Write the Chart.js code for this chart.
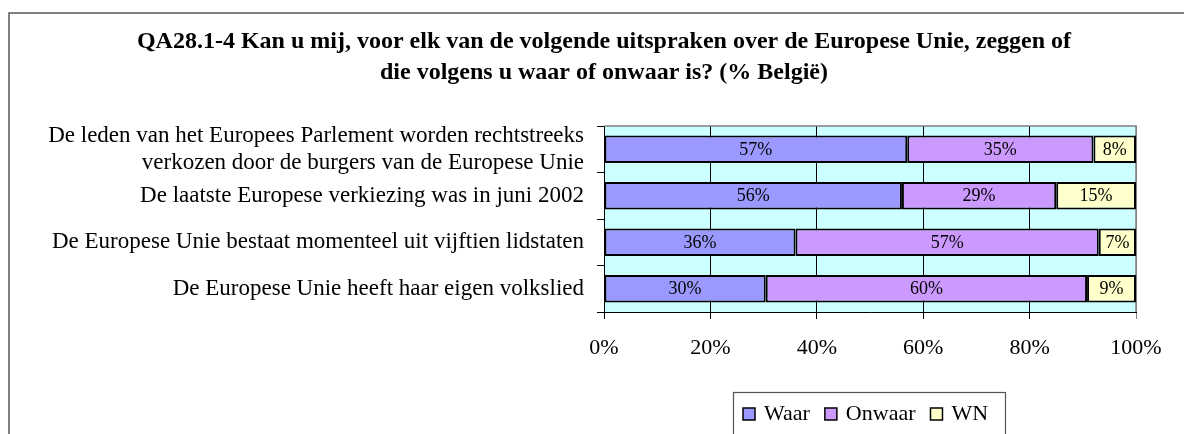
<!DOCTYPE html>
<html>
<head>
<meta charset="utf-8">
<script src="https://cdn.jsdelivr.net/npm/chart.js@4.4.2/dist/chart.umd.min.js"></script>
<style>
  html, body { margin: 0; padding: 0; background: #fff; }
  #wrap { width: 1184px; height: 434px; position: relative; }
</style>
</head>
<body>
<div id="wrap"><canvas id="chart"></canvas></div>
<script>
// statements, top to bottom
const statements = [
  ['De leden van het Europees Parlement worden rechtstreeks',
   'verkozen door de burgers van de Europese Unie'],
  'De laatste Europese verkiezing was in juni 2002',
  'De Europese Unie bestaat momenteel uit vijftien lidstaten',
  'De Europese Unie heeft haar eigen volkslied'
];
const seriesNames = ['Waar', 'Onwaar', 'WN'];
const waar = [57, 56, 36, 30.4];
const onwaar = [35, 29, 57, 60.4];
const wn = [8, 15, 7, 9.2];
const xTicks = [0, 20, 40, 60, 80, 100];

const titleLines = [
  'QA28.1-4 Kan u mij, voor elk van de volgende uitspraken over de Europese Unie, zeggen of',
  'die volgens u waar of onwaar is? (% België)'
];

const FONT = "'Liberation Serif', 'Times New Roman', serif";

// cyan plot background + grey frame around the whole picture
const backdrop = {
  id: 'backdrop',
  beforeDraw(chart) {
    const {ctx, chartArea: a} = chart;
    ctx.save();
    ctx.fillStyle = '#fff';
    ctx.fillRect(0, 0, chart.width, chart.height);
    ctx.fillStyle = '#CCFFFF';
    ctx.fillRect(a.left, a.top, a.right - a.left, a.bottom - a.top);
    ctx.strokeStyle = '#555';
    ctx.lineWidth = 1.5;
    ctx.strokeRect(9, 13, chart.width + 20, chart.height + 20);
    ctx.restore();
  },
  beforeDatasetsDraw(chart) {
    const {ctx, chartArea: a} = chart;
    ctx.save();
    ctx.strokeStyle = '#808080';
    ctx.lineWidth = 1.5;
    ctx.beginPath();
    ctx.moveTo(a.left, a.top);
    ctx.lineTo(a.right, a.top);
    ctx.lineTo(a.right, a.bottom);
    ctx.stroke();
    ctx.restore();
  }
};

// percentage labels inside the bar pieces
const barLabels = {
  id: 'barLabels',
  afterDatasetsDraw(chart) {
    const ctx = chart.ctx;
    ctx.save();
    ctx.font = '18px ' + FONT;
    ctx.fillStyle = '#000';
    ctx.textAlign = 'center';
    ctx.textBaseline = 'middle';
    chart.data.datasets.forEach((ds, i) => {
      chart.getDatasetMeta(i).data.forEach((bar, j) => {
        const cx = (bar.x + bar.base) / 2;
        ctx.fillText(Math.round(ds.data[j]) + '%', cx, bar.y + 1);
      });
    });
    ctx.restore();
  }
};

// boxed legend under the axis
const boxLegend = {
  id: 'boxLegend',
  afterDraw(chart) {
    const ctx = chart.ctx;
    const boxL = 733, boxR = 1005, boxT = 392;
    ctx.save();
    ctx.strokeStyle = '#555';
    ctx.lineWidth = 1.2;
    ctx.strokeRect(boxL + 0.5, boxT + 0.5, boxR - boxL, 60);
    ctx.font = '22px ' + FONT;
    ctx.textBaseline = 'middle';
    const sq = 12, gapText = 9, gapItem = 15;
    let x = 743;
    const cy = 414;
    chart.data.datasets.forEach(ds => {
      ctx.fillStyle = ds.backgroundColor;
      ctx.fillRect(x, cy - sq / 2, sq, sq);
      ctx.strokeStyle = '#000';
      ctx.lineWidth = 1.5;
      ctx.strokeRect(x, cy - sq / 2, sq, sq);
      ctx.fillStyle = '#000';
      ctx.fillText(ds.label, x + sq + gapText, cy);
      x += sq + gapText + ctx.measureText(ds.label).width + gapItem;
    });
    ctx.restore();
  }
};

const colors = ['#9999FF', '#CC99FF', '#FFFFCC'];
const values = [waar, onwaar, wn];

new Chart(document.getElementById('chart'), {
  type: 'bar',
  data: {
    labels: statements,
    datasets: seriesNames.map((name, i) => ({
      label: name,
      data: values[i],
      backgroundColor: colors[i],
      borderColor: '#000',
      borderWidth: 2,
      borderSkipped: false,
      categoryPercentage: 1,
      barPercentage: 0.59
    }))
  },
  options: {
    indexAxis: 'y',
    responsive: true,
    maintainAspectRatio: false,
    animation: false,
    devicePixelRatio: 1,
    layout: {padding: {left: 24, right: 0, top: 0, bottom: 74}},
    plugins: {
      legend: {display: false},
      tooltip: {enabled: false},
      title: {
        display: true,
        text: titleLines,
        color: '#000',
        font: {family: FONT, size: 24, weight: 'bold', lineHeight: 1.3},
        padding: {top: 26, bottom: 37.6}
      }
    },
    scales: {
      x: {
        stacked: true,
        min: 0,
        max: 100,
        afterBuildTicks: s => { s.ticks = xTicks.map(v => ({value: v})); },
        afterFit: s => { s.height = 48; },
        ticks: {
          color: '#000',
          font: {family: FONT, size: 22, lineHeight: 1.1},
          padding: 17,
          maxRotation: 0,
          callback: v => v + '%'
        },
        grid: {
          color: c => (c.tick && c.tick.value === 100) ? '#808080' : '#000',
          lineWidth: 1,
          tickLength: 7
        },
        border: {color: '#000', width: 1}
      },
      y: {
        stacked: true,
        afterFit: s => { s.width = 580; },
        ticks: {
          color: '#000',
          autoSkip: false,
          font: {family: FONT, size: 23, lineHeight: 1.17},
          padding: 13
        },
        grid: {
          drawOnChartArea: false,
          color: '#000',
          tickLength: 7
        },
        border: {color: '#000', width: 1}
      },
      yRight: {
        position: 'right',
        type: 'linear',
        afterFit: s => { s.width = 48; },
        ticks: {display: false},
        grid: {display: false},
        border: {display: false}
      }
    }
  },
  plugins: [backdrop, barLabels, boxLegend]
});
</script>
</body>
</html>
